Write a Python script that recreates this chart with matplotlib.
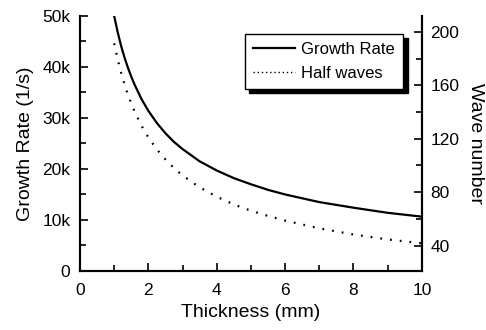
import matplotlib
matplotlib.use("Agg")
import matplotlib.pyplot as plt
from matplotlib.lines import Line2D
from matplotlib.ticker import MultipleLocator, FuncFormatter

plt.rcParams['font.family'] = ['Liberation Sans', 'DejaVu Sans']

thickness = [1, 1.1, 1.2, 1.3, 1.4, 1.5, 1.6, 1.8, 2, 2.25, 2.5, 2.75, 3,
             3.5, 4, 4.5, 5, 5.5, 6, 7, 8, 9, 10]
growth_rate = [50000, 46900, 44200, 41900, 39900, 38100, 36500, 33700, 31400,
               29000, 27000, 25300, 23900, 21500, 19700, 18200, 17000, 15900,
               15000, 13500, 12400, 11400, 10650]
half_waves = [191.5, 179.8, 169.7, 161, 153.2, 146.5, 140.3, 129.8, 121,
              112, 104.5, 98, 92.5, 83.6, 76.6, 70.8, 66.1, 62.2, 58.7,
              52.9, 48.3, 44.6, 41.7]

fig = plt.figure(figsize=(4.86, 3.30), dpi=100)
ax = fig.add_axes([0.1646, 0.179, 0.868 - 0.1646, 0.9515 - 0.179])
ax2 = ax.twinx()

l1, = ax.plot(thickness, growth_rate, color='black', lw=1.6, label='Growth Rate')
l2, = ax2.plot(thickness, half_waves, color='black', lw=1.6,
               linestyle=(0, (0.8, 3.6)), label='Half waves')

ax.set_xlim(0, 10)
ax.set_ylim(0, 50000)
ax2.set_ylim(21, 212)

for a in (ax, ax2):
    a.spines['top'].set_visible(False)
    for s in a.spines.values():
        s.set_linewidth(1.5)
    a.patch.set_visible(False)

ax.xaxis.set_major_locator(MultipleLocator(2))
ax.xaxis.set_minor_locator(MultipleLocator(1))
ax.yaxis.set_major_locator(MultipleLocator(10000))
ax.yaxis.set_minor_locator(MultipleLocator(5000))
ax.yaxis.set_major_formatter(FuncFormatter(lambda v, p: '0' if v == 0 else f'{int(v/1000)}k'))
ax2.yaxis.set_major_locator(MultipleLocator(40))
ax2.yaxis.set_minor_locator(MultipleLocator(20))

ax.tick_params(which='both', direction='in', width=1.2, labelsize=12.5, top=False)
ax.tick_params(which='major', length=6)
ax.tick_params(which='minor', length=4)
ax.tick_params(axis='x', which='major', pad=9)
ax.tick_params(axis='y', which='major', pad=7)
ax2.tick_params(which='both', direction='in', width=1.2, labelsize=12.5)
ax2.tick_params(which='major', length=6, pad=6)
ax2.tick_params(which='minor', length=4)

ax.set_xlabel('Thickness (mm)', fontsize=14, labelpad=4)
ax.set_ylabel('Growth Rate (1/s)', fontsize=14, labelpad=6)
ax2.set_ylabel('Wave number', fontsize=14, rotation=270, labelpad=18)

h1 = Line2D([], [], color='black', lw=1.6)
h2 = Line2D([], [], color='black', lw=1.0, linestyle=(0, (1, 2)))
leg = ax.legend([h1, h2], ['Growth Rate', 'Half waves'], loc='upper right',
                bbox_to_anchor=(0.946, 0.93), fontsize=12, handlelength=2.5,
                fancybox=False, framealpha=1, edgecolor='black', borderpad=0.5,
                labelspacing=0.5, handletextpad=0.4, borderaxespad=0,
                shadow={'color': 'black', 'alpha': 1, 'ox': 3, 'oy': -3})
leg.get_frame().set_linewidth(1.0)

fig.savefig('out.png', dpi=100)
